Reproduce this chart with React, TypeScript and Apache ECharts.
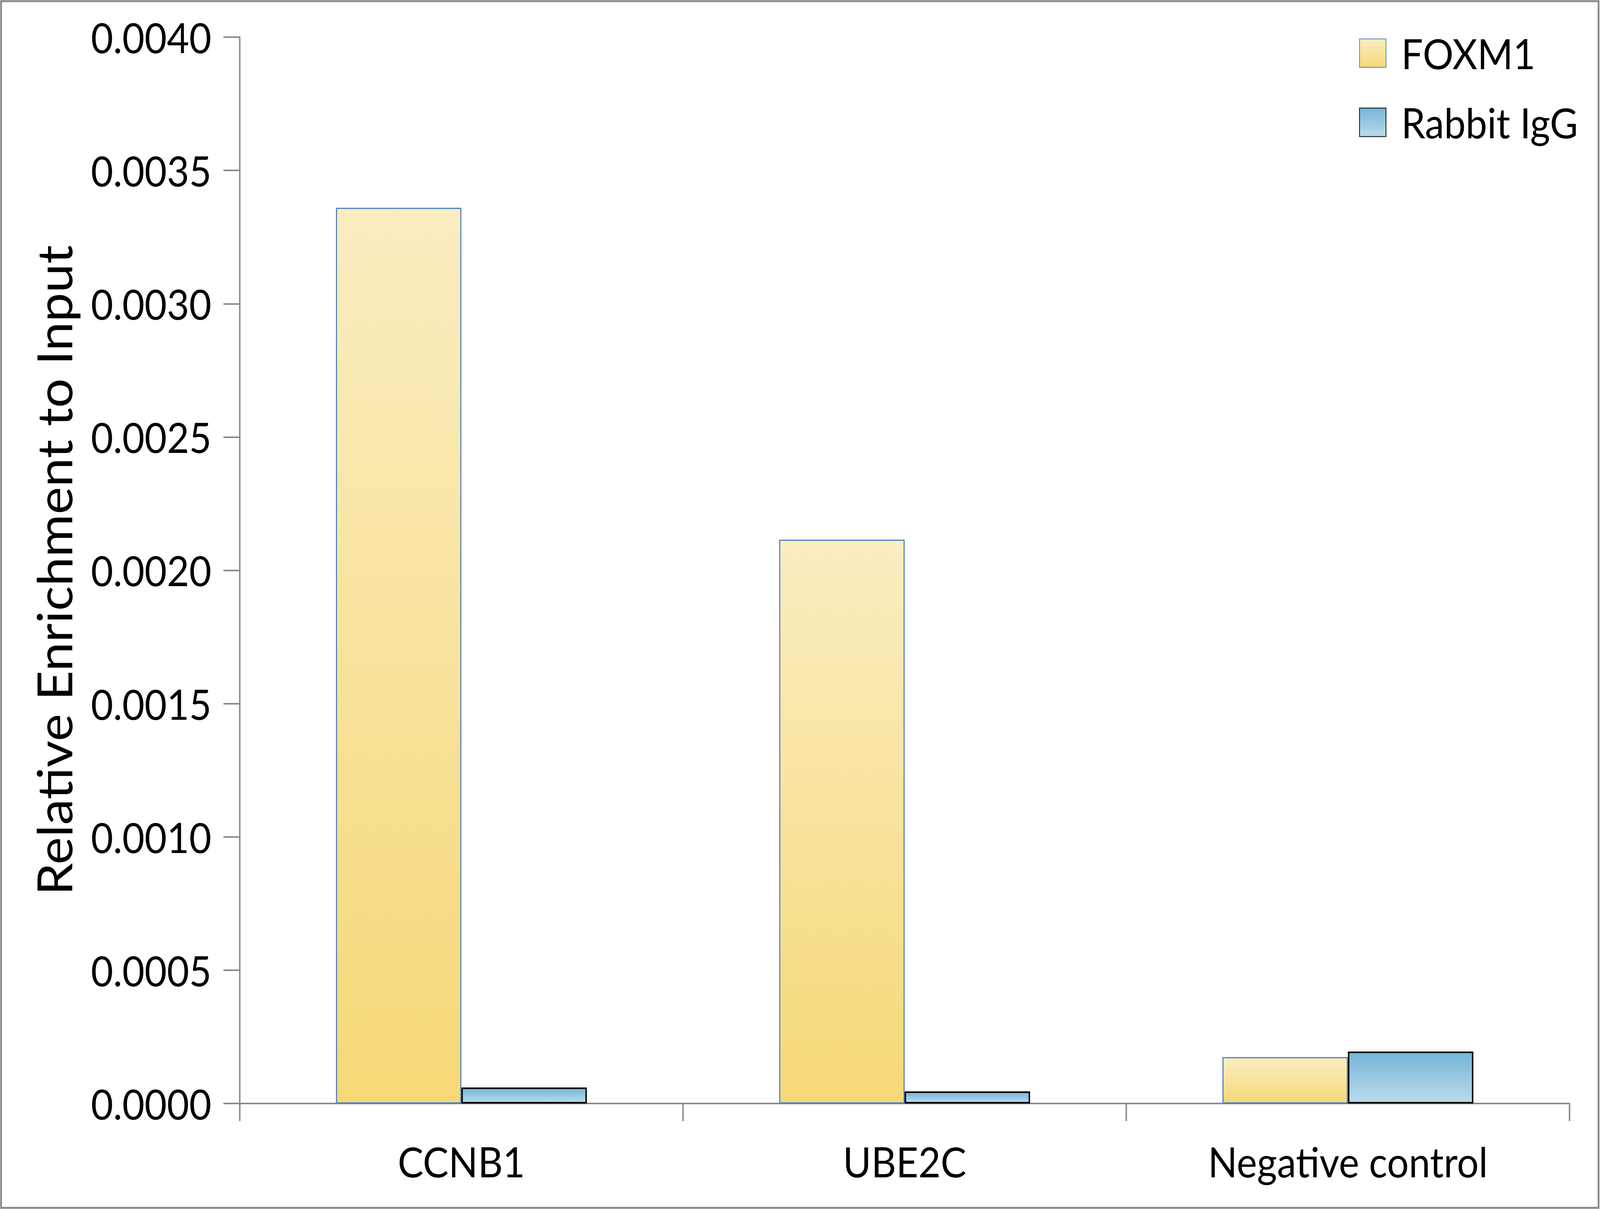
import React, { useEffect, useRef } from "react";
import * as echarts from "echarts";

const categories = ["CCNB1", "UBE2C", "Negative control"];
const seriesNames = ["FOXM1", "Rabbit IgG"];
const foxm1Values = [0.00336, 0.002115, 0.000174];
const iggValues = [0.00006, 0.0000454, 0.000195];
const yTicks = { min: 0, max: 0.004, interval: 0.0005 };

const FONT = "Lato";
const W0 = 4411;
const H0 = 3094;

export default function App() {
  const ref = useRef<HTMLDivElement>(null);
  const wrap = useRef<HTMLDivElement>(null);
  useEffect(() => {
    document.body.style.margin = "0";
    document.body.style.overflow = "hidden";
    const sx = window.innerWidth / W0;
    const sy = window.innerHeight / H0;
    if (wrap.current) {
      wrap.current.style.transform = `scale(${sx}, ${sy})`;
    }
    const chart = echarts.init(ref.current!, null, { renderer: "svg", width: W0, height: H0 });
    const foxGrad = new echarts.graphic.LinearGradient(0, 0, 0, 1, [
      { offset: 0, color: "#FAEDC1" },
      { offset: 1, color: "#F6D877" },
    ]);
    const iggGrad = new echarts.graphic.LinearGradient(0, 0, 0, 1, [
      { offset: 0, color: "#75B5D8" },
      { offset: 1, color: "#BADBEC" },
    ]);
    chart.setOption({
      animation: false,
      backgroundColor: "#ffffff",
      textStyle: { fontFamily: FONT },
      graphic: [
        {
          type: "rect",
          shape: { x: 3, y: 3, width: W0 - 7, height: H0 - 6 },
          style: { fill: "none", stroke: "#8a8a8a", lineWidth: 5 },
          silent: true,
        },
      ],
      grid: { left: 661, right: 84, top: 95, bottom: 270 },
      legend: {
        orient: "vertical",
        left: 3747,
        top: 83,
        padding: 0,
        itemWidth: 73,
        itemHeight: 73,
        itemGap: 71,
        icon: "rect",
        textStyle: {
          fontFamily: FONT,
          fontSize: 106,
          color: "#000",
          lineHeight: 73,
          padding: [0, 0, 0, 37],
        },
        data: seriesNames,
      },
      xAxis: {
        type: "category",
        data: categories,
        axisLine: { lineStyle: { color: "#898989", width: 4 } },
        axisTick: { show: true, length: 45, lineStyle: { color: "#898989", width: 4 } },
        axisLabel: { fontFamily: FONT, fontSize: 106, color: "#000", margin: 95 },
        splitLine: { show: false },
      },
      yAxis: {
        type: "value",
        min: yTicks.min,
        max: yTicks.max,
        interval: yTicks.interval,
        name: "Relative Enrichment to Input",
        nameLocation: "middle",
        nameRotate: 90,
        nameGap: 447,
        nameTextStyle: { fontFamily: FONT, fontSize: 133, color: "#000" },
        axisLine: { show: true, lineStyle: { color: "#898989", width: 4 } },
        axisTick: { show: true, length: 45, lineStyle: { color: "#898989", width: 4 } },
        axisLabel: {
          fontFamily: FONT,
          fontSize: 106,
          color: "#000",
          margin: 78,
          formatter: (v: number) => v.toFixed(4),
        },
        splitLine: { show: false },
      },
      series: [
        {
          name: seriesNames[0],
          type: "bar",
          data: foxm1Values,
          barWidth: "28.3%",
          barGap: "0%",
          itemStyle: { color: foxGrad, borderColor: "#4F81BD", borderWidth: 3 },
        },
        {
          name: seriesNames[1],
          type: "bar",
          data: iggValues,
          barWidth: "28.3%",
          barGap: "0%",
          itemStyle: { color: iggGrad, borderColor: "#000000", borderWidth: 4 },
        },
      ],
    });
    return () => chart.dispose();
  }, []);
  return (
    <div
      ref={wrap}
      style={{ width: W0, height: H0, transformOrigin: "0 0", overflow: "hidden" }}
    >
      <div ref={ref} style={{ width: W0, height: H0 }} />
    </div>
  );
}
